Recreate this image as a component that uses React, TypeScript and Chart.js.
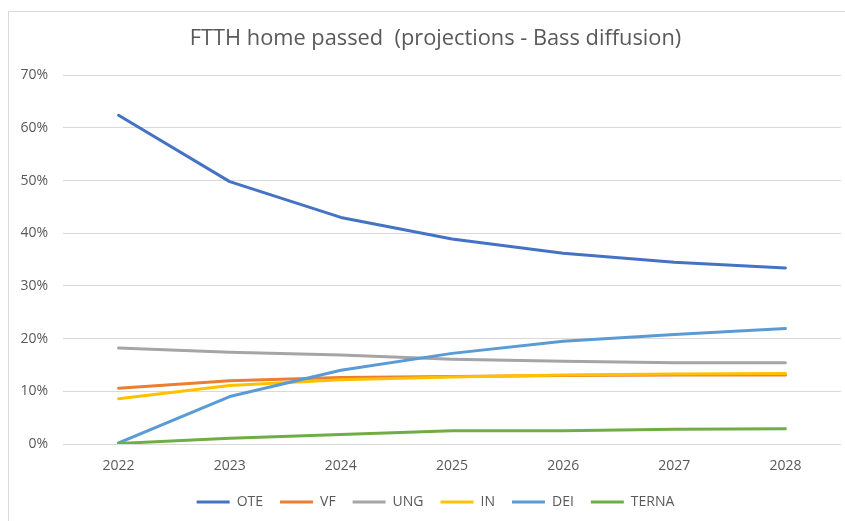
import React, { useEffect, useRef } from "react";
import { Chart, registerables } from "chart.js";

Chart.register(...registerables);

const years = ["2022", "2023", "2024", "2025", "2026", "2027", "2028"];
const OTE = [62.4, 49.8, 43.0, 38.9, 36.2, 34.5, 33.4];
const VF = [10.6, 12.0, 12.6, 12.8, 13.0, 13.1, 13.1];
const UNG = [18.2, 17.4, 16.9, 16.1, 15.7, 15.4, 15.4];
const IN = [8.6, 11.1, 12.2, 12.7, 13.1, 13.3, 13.4];
const DEI = [0.2, 9.0, 14.0, 17.2, 19.5, 20.8, 21.9];
const TERNA = [0.1, 1.1, 1.8, 2.5, 2.5, 2.8, 2.9];
const yTicks = [0, 10, 20, 30, 40, 50, 60, 70];

const seriesNames = ["OTE", "VF", "UNG", "IN", "DEI", "TERNA"];
const seriesData = [OTE, VF, UNG, IN, DEI, TERNA];
const seriesColors = ["#4472C4", "#ED7D31", "#A5A5A5", "#FFC000", "#5B9BD5", "#70AD47"];

const FONT = "'Open Sans', 'Noto Sans', sans-serif";
const TEXT = "#595959";

const frame = {
  id: "frame",
  beforeDraw(chart: any) {
    const ctx = chart.ctx;
    ctx.save();
    ctx.fillStyle = "#ffffff";
    ctx.fillRect(0, 0, chart.width, chart.height);
    ctx.strokeStyle = "#d9d9d9";
    ctx.lineWidth = 1;
    ctx.beginPath();
    ctx.moveTo(8.5, chart.height);
    ctx.lineTo(8.5, 11.5);
    ctx.lineTo(chart.width, 11.5);
    ctx.stroke();
    ctx.restore();
  },
};

export default function App() {
  const ref = useRef<HTMLCanvasElement>(null);
  useEffect(() => {
    if (!ref.current) return;
    const n = seriesNames.length;
    const chart = new Chart(ref.current, {
      type: "line",
      data: {
        labels: years,
        datasets: seriesNames.map((name, i) => ({
          label: name,
          data: seriesData[i],
          borderColor: seriesColors[i],
          backgroundColor: seriesColors[i],
          borderWidth: 3,
          pointRadius: 0,
          pointHoverRadius: 0,
          tension: 0,
          fill: false,
          order: n - i,
          borderCapStyle: "round",
          borderJoinStyle: "round",
        })),
      },
      options: {
        animation: false,
        responsive: false,
        devicePixelRatio: 1,
        layout: { padding: { left: 0, right: -26, top: 0, bottom: 2 } },
        plugins: {
          title: {
            display: true,
            text: "FTTH home passed  (projections - Bass diffusion)",
            color: TEXT,
            font: { family: FONT, size: 21.8, weight: "normal" },
            padding: { top: 26, bottom: 23 },
          },
          legend: {
            position: "bottom",
            labels: {
              usePointStyle: true,
              pointStyle: "line",
              pointStyleWidth: 33,
              color: TEXT,
              font: { family: FONT, size: 14 },
              padding: 17,
              sort: (a: any, b: any) => a.datasetIndex - b.datasetIndex,
            },
          },
          tooltip: { enabled: false },
        },
        scales: {
          x: {
            offset: true,
            grid: { display: false, drawTicks: false },
            border: { display: false },
            ticks: {
              color: TEXT,
              font: { family: FONT, size: 14 },
              padding: 14,
              maxRotation: 0,
            },
            afterFit: (s: any) => {
              s.height = 34;
            },
          },
          y: {
            min: 0,
            max: 70,
            afterBuildTicks: (s: any) => {
              s.ticks = yTicks.map((v) => ({ value: v }));
            },
            grid: { color: "#d9d9d9", lineWidth: 1, drawTicks: false },
            border: { display: false },
            ticks: {
              color: TEXT,
              font: { family: FONT, size: 14 },
              padding: 15,
              callback: (v: any) => v + "%",
            },
            afterFit: (s: any) => {
              s.width = 63;
            },
          },
          yRight: {
            position: "right",
            display: true,
            grid: { display: false, drawTicks: false },
            border: { display: false },
            ticks: { display: false },
            afterFit: (s: any) => {
              s.width = 30;
            },
          },
        },
      },
      plugins: [frame],
    });
    return () => chart.destroy();
  }, []);
  return (
    <div style={{ position: "absolute", left: 0, top: 0, width: 845, height: 521 }}>
      <canvas ref={ref} width={845} height={521} style={{ width: 845, height: 521 }} />
    </div>
  );
}
